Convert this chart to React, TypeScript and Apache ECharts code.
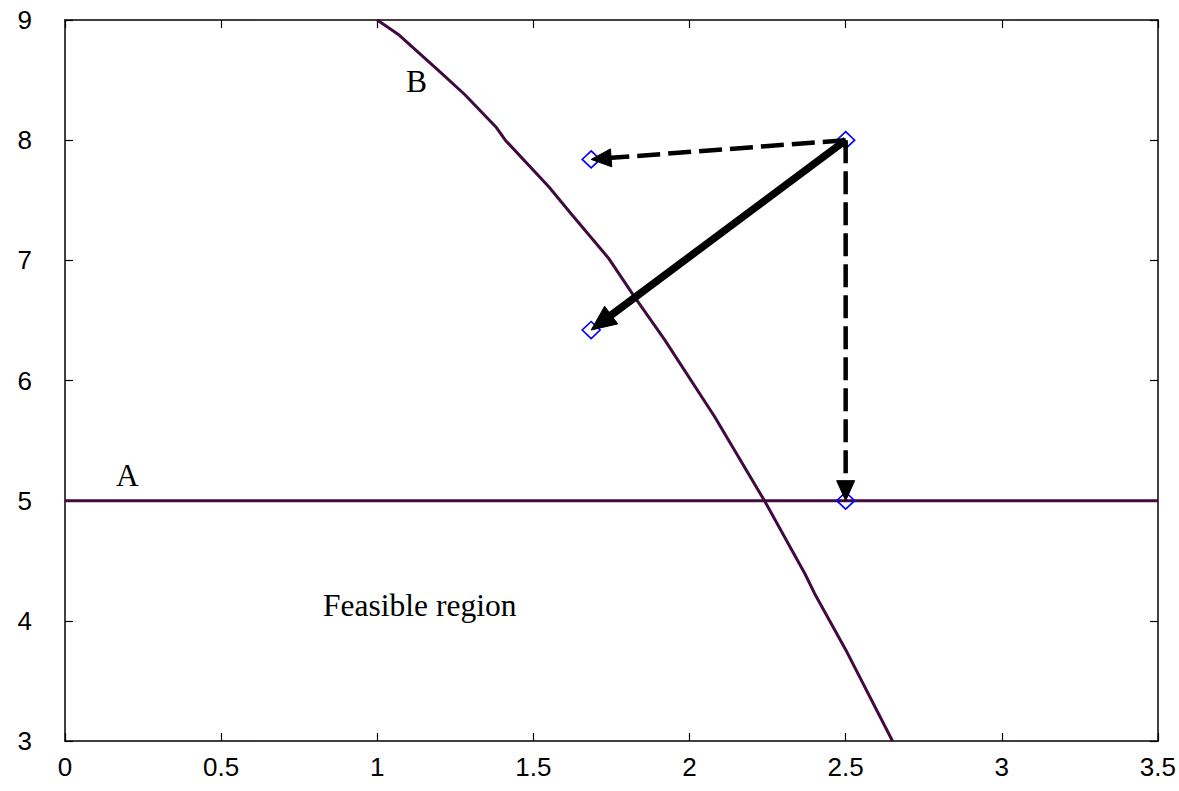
import React, { useEffect, useRef } from "react";
import * as echarts from "echarts";

// Constraint A: horizontal line y = 5
const lineA: number[][] = [
  [0, 5],
  [3.5, 5],
];

// Constraint B: curve
const curveB: number[][] = [
  [1.0, 9.0],
  [1.07, 8.875],
  [1.2, 8.57],
  [1.28, 8.38],
  [1.38, 8.11],
  [1.41, 8.0],
  [1.55, 7.61],
  [1.62, 7.39],
  [1.74, 7.02],
  [1.82, 6.71],
  [1.92, 6.34],
  [2.08, 5.7],
  [2.24, 5.0],
  [2.37, 4.39],
  [2.4, 4.23],
  [2.5, 3.76],
  [2.65, 3.0],
];

// Blue diamond points
const points: number[][] = [
  [2.5, 8.0],
  [1.685, 7.84],
  [1.685, 6.42],
  [2.5, 5.0],
];

// Arrows: x1, y1, x2, y2, solid(1) / dashed(0)
const arrows: number[][] = [
  [2.5, 8.0, 1.685, 7.84, 0],
  [2.5, 8.0, 1.685, 6.42, 1],
  [2.5, 8.0, 2.5, 5.0, 0],
];

// Text annotations
const labelNames: string[] = ["A", "B", "Feasible region"];
const labelX: number[] = [0.2, 1.126, 1.136];
const labelY: number[] = [5.21, 8.487, 4.124];

const xMin = 0;
const xMax = 3.5;
const xStep = 0.5;
const yMin = 3;
const yMax = 9;
const yStep = 1;

export default function App() {
  const ref = useRef<HTMLDivElement>(null);

  useEffect(() => {
    if (!ref.current) return;
    const chart = echarts.init(ref.current, undefined, { renderer: "svg" });

    const axisLine = { show: true, onZero: false, lineStyle: { color: "#000", width: 1.5 } };
    const axisTick = { show: true, inside: true, length: 8, lineStyle: { color: "#000", width: 1.2 } };
    const labelFont = { fontFamily: "Liberation Sans", fontSize: 26, color: "#000" };

    const option: any = {
      animation: false,
      backgroundColor: "#fff",
      grid: { left: 65, right: 17, top: 20, bottom: 50, containLabel: false },
      xAxis: [
        {
          type: "value",
          position: "bottom",
          min: xMin,
          max: xMax,
          interval: xStep,
          axisLine,
          axisTick,
          splitLine: { show: false },
          axisLabel: { ...labelFont, margin: 13, showMinLabel: true, showMaxLabel: true },
        },
        {
          type: "value",
          position: "top",
          min: xMin,
          max: xMax,
          interval: xStep,
          axisLine,
          axisTick,
          splitLine: { show: false },
          axisLabel: { show: false },
        },
      ],
      yAxis: [
        {
          type: "value",
          position: "left",
          min: yMin,
          max: yMax,
          interval: yStep,
          axisLine,
          axisTick,
          splitLine: { show: false },
          axisLabel: { ...labelFont, margin: 33 },
        },
        {
          type: "value",
          position: "right",
          min: yMin,
          max: yMax,
          interval: yStep,
          axisLine,
          axisTick,
          splitLine: { show: false },
          axisLabel: { show: false },
        },
      ],
      series: [
        {
          type: "line",
          data: lineA,
          showSymbol: false,
          symbol: "none",
          lineStyle: { color: "#400a40", width: 3 },
          z: 2,
        },
        {
          type: "line",
          data: curveB,
          showSymbol: false,
          symbol: "none",
          lineStyle: { color: "#400a40", width: 3 },
          z: 2,
        },
        {
          type: "scatter",
          data: points,
          symbol: "diamond",
          symbolSize: [18, 17],
          itemStyle: {
            color: "rgba(0,0,0,0)",
            borderColor: "#0000ff",
            borderWidth: 1.6,
            opacity: 1,
          },
          z: 3,
        },
        {
          type: "custom",
          data: arrows,
          encode: { x: [0, 2], y: [1, 3] },
          z: 4,
          renderItem: (params: any, api: any) => {
            const p1 = api.coord([api.value(0), api.value(1)]);
            const p2 = api.coord([api.value(2), api.value(3)]);
            const solid = api.value(4) === 1;
            const dx = p2[0] - p1[0];
            const dy = p2[1] - p1[1];
            const len = Math.hypot(dx, dy);
            const ux = dx / len;
            const uy = dy / len;
            const hl = solid ? 25 : 20;
            const hw = solid ? 11 : 9;
            const bx = p2[0] - ux * hl;
            const by = p2[1] - uy * hl;
            const nx = -uy;
            const ny = ux;
            return {
              type: "group",
              children: [
                {
                  type: "line",
                  shape: { x1: p1[0], y1: p1[1], x2: bx + ux * 3, y2: by + uy * 3 },
                  style: {
                    stroke: "#000",
                    lineWidth: solid ? 7.5 : 4.5,
                    lineDash: solid ? null : [23, 8],
                    fill: null,
                  },
                },
                {
                  type: "polygon",
                  shape: {
                    points: [
                      [p2[0], p2[1]],
                      [bx + nx * hw, by + ny * hw],
                      [bx - nx * hw, by - ny * hw],
                    ],
                  },
                  style: { fill: "#000", stroke: "#000", lineWidth: 1 },
                },
              ],
            };
          },
        },
        {
          type: "scatter",
          symbolSize: 0,
          silent: true,
          z: 5,
          itemStyle: { opacity: 1 },
          data: labelNames.map((n, i) => ({ name: n, value: [labelX[i], labelY[i]] })),
          label: {
            show: true,
            position: "inside",
            formatter: "{b}",
            fontFamily: "Liberation Serif",
            fontSize: 31.5,
            color: "#000",
            opacity: 1,
            textBorderWidth: 0,
            textBorderColor: "transparent",
          },
        },
      ],
    };

    chart.setOption(option);
    return () => chart.dispose();
  }, []);

  return (
    <div
      ref={ref}
      style={{ position: "fixed", left: 0, top: 0, width: 1179, height: 791 }}
    />
  );
}
